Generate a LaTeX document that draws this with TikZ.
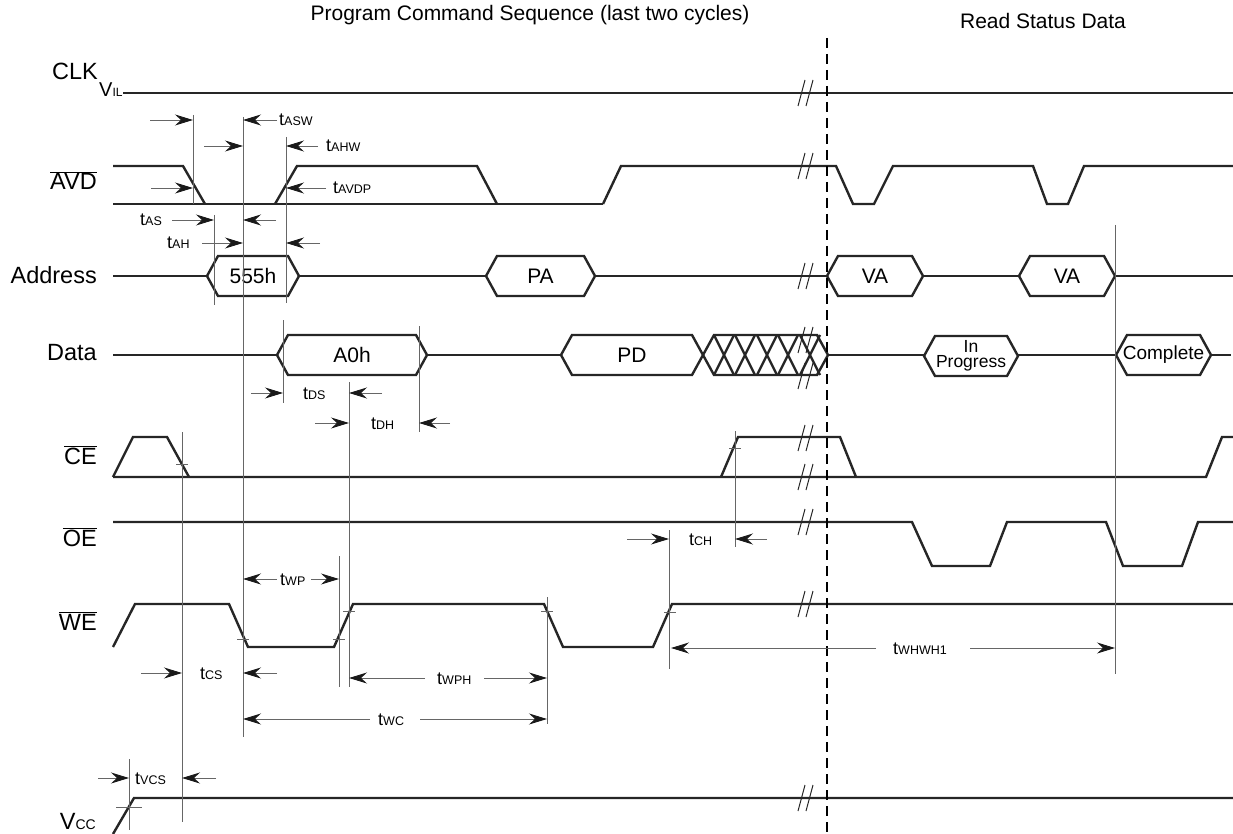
\documentclass[tikz,border=0pt]{standalone}
\usepackage{fontspec}
\setmainfont{Liberation Sans}
\usetikzlibrary{arrows.meta}
\tikzset{
	% signal traces
	sig/.style={line width=2.4pt,color=black!85,line join=miter},
	% thin reference lines and dimension arrows
	guide/.style={line width=0.9pt,color=black!60},
	dim/.style={line width=0.9pt,black!60,-{Stealth[length=18pt,width=11pt,inset=6pt,black!90]}},
	brk/.style={line width=1pt,color=black!85},
	% text styles
	lbl/.style={font=\fontsize{23.5}{24}\selectfont,anchor=base east,inner sep=0pt},
	ttl/.style={font=\fontsize{21}{22}\selectfont,anchor=base,inner sep=0pt},
	buslbl/.style={font=\fontsize{21}{22}\selectfont,inner sep=0pt,align=center},
	tlab/.style={anchor=base west,inner sep=0pt},
}
% timing parameter: big t, small index on the same baseline
\newcommand{\tm}[1]{{\fontsize{18}{18}\selectfont t}{\fontsize{12.5}{12.5}\selectfont #1}}
% bus value box: [text style], name, left tip, right tip, centre y, text
\newcommand{\busbox}[6][]{%
	\draw[sig] (#3,#5) -- ({#3+11},{#5-20}) -- ({#4-11},{#5-20}) -- (#4,#5)
		-- ({#4-11},{#5+20}) -- ({#3+11},{#5+20}) -- cycle;
	\node[buslbl,#1] (#2) at ({(#3+#4)/2},#5) {#6};}

\begin{document}
\begin{tikzpicture}[x=1pt,y=-1pt]
\useasboundingbox (0,0) rectangle (1233,834);
% headings
\node[ttl] (progseq) at (530,21) {Program Command Sequence (last two cycles)};
\node[ttl] (readstat) at (1043,29) {Read Status Data};
% signal names
\node[lbl] (clk) at (98,80) {CLK};
\node[tlab] (vil) at (99,97) {{\fontsize{20}{20}\selectfont V}{\fontsize{12}{12}\selectfont IL}};
\node[lbl] (avd) at (97,190) {$\overline{\mbox{AVD}}$};
\node[lbl] (addr) at (97,283) {Address};
\node[lbl] (data) at (97,360) {Data};
\node[lbl] (ce) at (97,464) {$\overline{\mbox{CE}}$};
\node[lbl] (oe) at (97,546) {$\overline{\mbox{OE}}$};
\node[lbl] (we) at (97,630) {$\overline{\mbox{WE}}$};
\node[anchor=base east,inner sep=0pt] (vcc) at (96,829) {{\fontsize{23.5}{24}\selectfont V}{\fontsize{14}{14}\selectfont CC}};

% the traces
\draw[sig] (123,93) -- (1233,93);
\draw[sig] (113,204) -- (603,204);
\draw[sig] (113,166) -- (183,166) -- (205,204) (275,204) -- (297,166) -- (477,166) -- (497,204)
	(603,204) -- (621,166) -- (836,166) -- (853,204) -- (874,204) -- (893,166) -- (1033,166)
	-- (1047,204) -- (1068,204) -- (1084,166) -- (1233,166);
% address bus
\draw[sig] (113,276) -- (207,276) (299,276) -- (486,276) (595,276) -- (827,276)
	(923,276) -- (1019,276) (1115,276) -- (1233,276);
\busbox{a555}{207}{299}{276}{555h}
\busbox{apa}{486}{595}{276}{PA}
\busbox{ava}{827}{923}{276}{VA}
\busbox{avb}{1019}{1115}{276}{VA}
% data bus
\draw[sig] (113,355) -- (277,355) (427,355) -- (561,355) (828,355) -- (924,355)
	(1018,355) -- (1116,355) (1211,355) -- (1231,355);
\busbox{da0}{277}{427}{355}{A0h}
\busbox{dpd}{561}{703}{355}{PD}
\busbox[font=\fontsize{17.5}{15.5}\selectfont]{dprog}{924}{1018}{356}{In\\Progress}
\busbox[font=\fontsize{19}{19}\selectfont]{dcomp}{1116}{1211}{355}{Complete}
\draw[sig] (703,355) -- (714,335) -- (817,335) -- (828,355) -- (817,375) -- (714,375) -- cycle;
\foreach \c in {724,745,767,788,810}
	\draw[sig] ({\c-10},335) -- ({\c+10},375) ({\c-10},375) -- ({\c+10},335);
% control lines
\draw[sig] (113,477) -- (1206,477) -- (1222,437) -- (1233,437);
\draw[sig] (113,477) -- (133,437) -- (167,437) -- (189,477);
\draw[sig] (721,477) -- (738,437) -- (840,437) -- (856,477);
\draw[sig] (113,522) -- (912,522) -- (932,566) -- (990,566) -- (1007,522) -- (1106,522)
	-- (1123,566) -- (1182,566) -- (1198,522) -- (1233,522);
\draw[sig] (113,647) -- (135,604) -- (229,604) -- (248,647) -- (334,647) -- (353,604)
	-- (544,604) -- (563,647) -- (653,647) -- (672,604) -- (1233,604);
\draw[sig] (113,834) -- (134,798) -- (1233,798);

% the time breaks
\foreach \y in {93,166,276,340,376,438,477,522,604,798}{
	\draw[brk] (798,{\y+13}) -- (805,{\y-13});
	\draw[brk] (806,{\y+13}) -- (813,{\y-13});
}
% end of the program sequence
\draw[line width=2.6pt,black,dash pattern=on 10pt off 6pt] (827,38) -- (827,834);

% reference lines
\foreach \n/\x/\a/\b in {avdfall/193/115/204, aswend/243/117/737, ahwend/286/137/303,
	asbeg/214/215/305, dsbeg/283/320/403, dhbeg/349/382/687, dhend/419/326/432,
	cefall/182/432/822, wprise/339/556/687, wcend/547/597/724, wefinal/669/530/669,
	cerise/735/431/547, whend/1115/225/674, vccup/129/759/830}{
	\coordinate (\n) at (\x,\a);
	\draw[guide] (\n) -- (\x,\b);
}
\foreach \x/\y in {182/464, 735/448, 243/639, 339/639, 349/611, 547/611, 670/612}
	\draw[guide] ({\x-6},\y) -- ({\x+6},\y);
\draw[guide] (116,807) -- (142,807);

% timing arrows and their labels
\draw[dim] (150,120) -- (avdfall |- 0,120);
\draw[dim] (277,120) -- (aswend |- 0,120);
\node[tlab] (tasw) at (279,126) {\tm{ASW}};
\draw[dim] (204,146) -- (aswend |- 0,146);
\draw[dim] (318,146) -- (ahwend |- 0,146);
\node[tlab] (tahw) at (326,152) {\tm{AHW}};
\draw[dim] (151,188) -- (avdfall |- 0,188);
\draw[dim] (326,188) -- (ahwend |- 0,188);
\node[tlab] (tavdp) at (333,194) {\tm{AVDP}};
\node[tlab] (tas) at (140,226) {\tm{AS}};
\draw[dim] (172,220) -- (asbeg |- 0,220);
\draw[dim] (276,220) -- (aswend |- 0,220);
\node[tlab] (tah) at (167,249) {\tm{AH}};
\draw[dim] (202,243) -- (aswend |- 0,243);
\draw[dim] (320,243) -- (ahwend |- 0,243);
\draw[dim] (251,393) -- (dsbeg |- 0,393);
\node[tlab] (tds) at (303,399) {\tm{DS}};
\draw[dim] (382,393) -- (dhbeg |- 0,393);
\draw[dim] (315,423) -- (dhbeg |- 0,423);
\node[tlab] (tdh) at (371,429) {\tm{DH}};
\draw[dim] (450,423) -- (dhend |- 0,423);
\draw[dim] (627,539) -- (wefinal |- 0,539);
\node[tlab] (tch) at (689,545) {\tm{CH}};
\draw[dim] (767,539) -- (cerise |- 0,539);
\draw[dim] (277,579) -- (aswend |- 0,579);
\node[tlab] (twp) at (280,585) {\tm{WP}};
\draw[dim] (311,579) -- (wprise |- 0,579);
\draw[dim] (141,673) -- (cefall |- 0,673);
\node[tlab] (tcs) at (200,679) {\tm{CS}};
\draw[dim] (277,673) -- (aswend |- 0,673);
\draw[dim] (425,678) -- (dhbeg |- 0,678);
\node[tlab] (twph) at (437,684) {\tm{WPH}};
\draw[dim] (484,678) -- (wcend |- 0,678);
\draw[dim] (876,648) -- (671,648);
\node[tlab] (twhwh) at (893,654) {\tm{WHWH1}};
\draw[dim] (970,648) -- (whend |- 0,648);
\draw[dim] (370,719) -- (aswend |- 0,719);
\node[tlab] (twc) at (378,725) {\tm{WC}};
\draw[dim] (420,719) -- (wcend |- 0,719);
\draw[dim] (98,778) -- (vccup |- 0,778);
\node[tlab] (tvcs) at (135,784) {\tm{VCS}};
\draw[dim] (216,778) -- (cefall |- 0,778);
\end{tikzpicture}
\end{document}
